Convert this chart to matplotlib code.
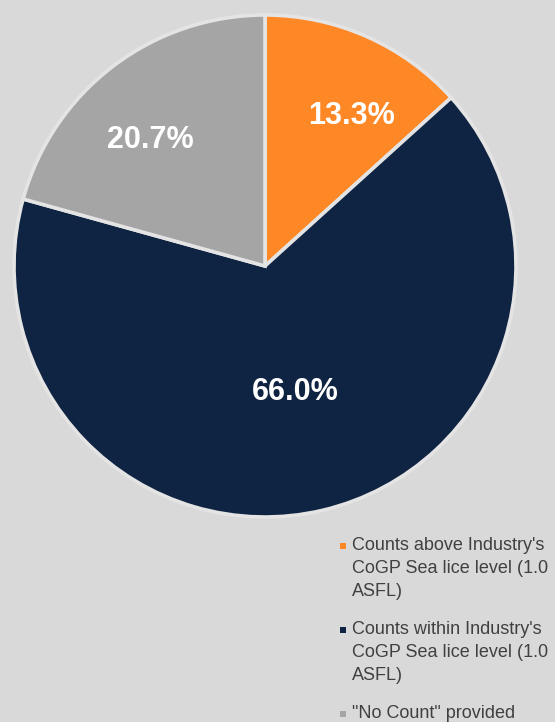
import matplotlib
matplotlib.use("Agg")
import matplotlib.pyplot as plt
from matplotlib.patches import Rectangle
import numpy as np

categories = [
    "Counts above Industry's\nCoGP Sea lice level (1.0\nASFL)",
    "Counts within Industry's\nCoGP Sea lice level (1.0\nASFL)",
    "\"No Count\" provided",
]
values = [13.3, 66.0, 20.7]
colors = ["#ff8826", "#0f2342", "#a5a5a5"]
label_radius = [0.69, 0.515, 0.68]
label_angle_shift = [-6, 0, 5]

plt.rcParams['font.family'] = ['Liberation Sans', 'DejaVu Sans']

W, H = 555, 722
fig = plt.figure(figsize=(W / 100, H / 100), dpi=100)
fig.patch.set_facecolor("#d9d9d9")

cx, cy, R = 265, 266, 251
ax = fig.add_axes([(cx - R) / W, 1 - (cy + R) / H, 2 * R / W, 2 * R / H])
ax.set_facecolor("#d9d9d9")
ax.axis("off")

wedges, _ = ax.pie(values, colors=colors, startangle=90, counterclock=False,
                   wedgeprops=dict(edgecolor="#e4e4e4", linewidth=2.6))
ax.set_xlim(-1, 1)
ax.set_ylim(-1, 1)
ax.set_aspect("equal")

for w, v, r, s in zip(wedges, values, label_radius, label_angle_shift):
    mid = np.deg2rad((w.theta1 + w.theta2) / 2 + s)
    ax.text(r * np.cos(mid), r * np.sin(mid), f"{v:.1f}%", color="white",
            fontsize=22, fontweight="bold", ha="center", va="center")

# legend
tops = [537, 621, 705]
for lab, col, t in zip(categories, colors, tops):
    fig.text(352 / W, 1 - t / H, lab, fontsize=13, color="#404040",
             ha="left", va="top", linespacing=1.45)
    fig.add_artist(Rectangle((340 / W, 1 - (t + 12) / H), 6 / W, 6 / H,
                             transform=fig.transFigure, facecolor=col,
                             edgecolor="none"))

fig.savefig("out.png", dpi=100, facecolor=fig.get_facecolor())
